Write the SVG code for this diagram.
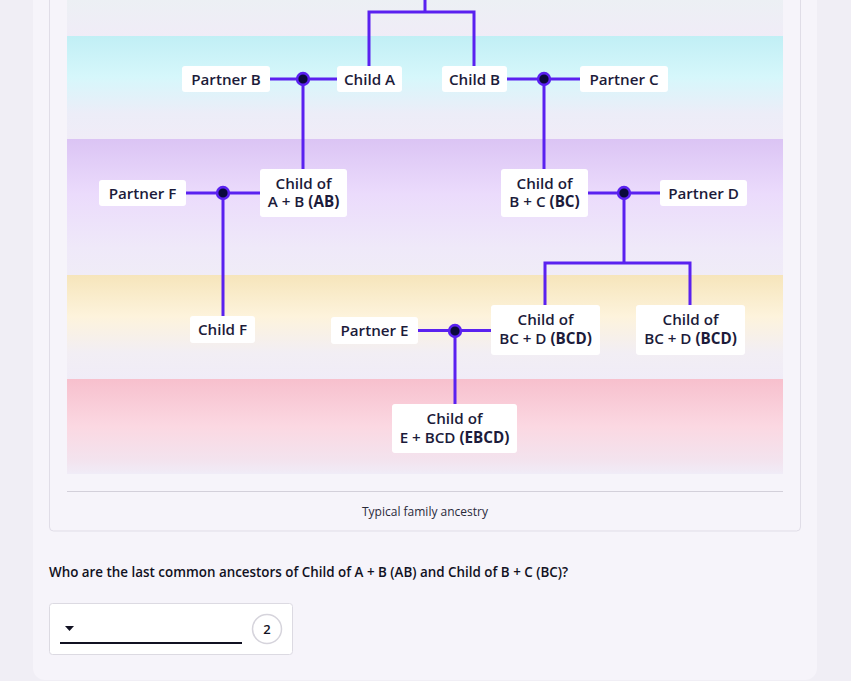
<svg xmlns="http://www.w3.org/2000/svg" width="851" height="681" viewBox="0 0 851 681">
<style>
.nb{fill:#ffffff;}
.t{font-family:"Open Sans","Noto Sans","Liberation Sans",sans-serif;font-size:15.2px;font-weight:600;fill:#1c1b3a;text-anchor:middle;}
.l{font-weight:600;}
.b{font-weight:700;}
.cn{fill:none;stroke:#5a21f0;stroke-width:3;}
.dot{fill:#0b0a3c;stroke:#5a21f0;stroke-width:2.6;}
</style>
<defs>
<linearGradient id="g0" x1="0" y1="0" x2="0" y2="1"><stop offset="0" stop-color="#ecf0f4"/><stop offset="1" stop-color="#f0ecf7"/></linearGradient>
<linearGradient id="g1" x1="0" y1="0" x2="0" y2="1"><stop offset="0" stop-color="#c1eff5"/><stop offset="0.4" stop-color="#d6f7fb"/><stop offset="0.75" stop-color="#ecedf8"/><stop offset="1" stop-color="#f0ecf7"/></linearGradient>
<linearGradient id="g2" x1="0" y1="0" x2="0" y2="1"><stop offset="0" stop-color="#dbc4f4"/><stop offset="0.4" stop-color="#ebdbfc"/><stop offset="0.8" stop-color="#efe9f9"/><stop offset="1" stop-color="#f0ecf7"/></linearGradient>
<linearGradient id="g3" x1="0" y1="0" x2="0" y2="1"><stop offset="0" stop-color="#f6e5bb"/><stop offset="0.4" stop-color="#fdf3dc"/><stop offset="0.75" stop-color="#f2eef4"/><stop offset="1" stop-color="#f0ecf7"/></linearGradient>
<linearGradient id="g4" x1="0" y1="0" x2="0" y2="1"><stop offset="0" stop-color="#f7c0cd"/><stop offset="0.5" stop-color="#fbd8e2"/><stop offset="0.85" stop-color="#f3e3ee"/><stop offset="1" stop-color="#f0ecf7"/></linearGradient>
</defs>
<rect x="0" y="0" width="851" height="681" fill="#f0eef5"/>
<rect x="33" y="-20" width="784" height="700" rx="12" fill="#f6f4fa"/>
<rect x="49.5" y="-10" width="751" height="541" rx="4" fill="#f6f4fa" stroke="#e0dde7" stroke-width="1"/>
<g id="bands">
<rect x="67" y="0" width="716" height="36" fill="url(#g0)"/>
<rect x="67" y="36" width="716" height="103" fill="url(#g1)"/>
<rect x="67" y="139" width="716" height="136" fill="url(#g2)"/>
<rect x="67" y="275" width="716" height="104" fill="url(#g3)"/>
<rect x="67" y="379" width="716" height="95" fill="url(#g4)"/>
</g>
<line x1="67" y1="491.5" x2="783" y2="491.5" stroke="#d3d0da" stroke-width="1"/>
<text x="425" y="516" font-family="Open Sans, Noto Sans, Liberation Sans, sans-serif" font-size="12" fill="#2a2a3a" text-anchor="middle">Typical family ancestry</text>
<g id="connectors">
<path class="cn" d="M425 0V12M369 66V12H474V66"/>
<path class="cn" d="M270 79H337M303 79V169"/>
<path class="cn" d="M507 79H580M544 79V169"/>
<path class="cn" d="M186 193H260M223 193V316"/>
<path class="cn" d="M588 193H660M624 193V263M545 305V263H690V305"/>
<path class="cn" d="M418 330.5H491M455 330.5V404"/>
<circle class="dot" cx="303" cy="79" r="5.9"/>
<circle class="dot" cx="544" cy="79" r="5.9"/>
<circle class="dot" cx="223" cy="193" r="5.9"/>
<circle class="dot" cx="624" cy="193" r="5.9"/>
<circle class="dot" cx="455" cy="331" r="5.9"/>
</g>
<g id="partnerB"><rect class="nb" x="182" y="66" width="88" height="26" rx="3"/><text class="t" x="226" y="84.5">Partner B</text></g>
<g id="childA"><rect class="nb" x="337" y="66" width="65" height="26" rx="3"/><text class="t" x="369.5" y="84.5">Child A</text></g>
<g id="childB"><rect class="nb" x="442" y="66" width="65" height="26" rx="3"/><text class="t" x="474.5" y="84.5">Child B</text></g>
<g id="partnerC"><rect class="nb" x="580" y="66" width="88" height="26" rx="3"/><text class="t" x="624" y="84.5">Partner C</text></g>
<g id="partnerF"><rect class="nb" x="99" y="180" width="87" height="26" rx="3"/><text class="t" x="142.5" y="198.5">Partner F</text></g>
<g id="childAB"><rect class="nb" x="260" y="169" width="87" height="48" rx="3"/><text class="t" x="303.5" y="188.5">Child of</text><text class="t" x="303.5" y="207"><tspan class="l">A + B </tspan><tspan class="b">(AB)</tspan></text></g>
<g id="childBC"><rect class="nb" x="501" y="169" width="87" height="48" rx="3"/><text class="t" x="544.5" y="188.5">Child of</text><text class="t" x="544.5" y="207"><tspan class="l">B + C </tspan><tspan class="b">(BC)</tspan></text></g>
<g id="partnerD"><rect class="nb" x="660" y="180" width="87" height="26" rx="3"/><text class="t" x="703.5" y="198.5">Partner D</text></g>
<g id="childF"><rect class="nb" x="190" y="316" width="65" height="27" rx="3"/><text class="t" x="222.5" y="335">Child F</text></g>
<g id="partnerE"><rect class="nb" x="331" y="317" width="87" height="27" rx="3"/><text class="t" x="374.5" y="336">Partner E</text></g>
<g id="childBCD1"><rect class="nb" x="491" y="305" width="109" height="50" rx="3"/><text class="t" x="545.5" y="324.5">Child of</text><text class="t" x="545.5" y="343.5"><tspan class="l">BC + D </tspan><tspan class="b">(BCD)</tspan></text></g>
<g id="childBCD2"><rect class="nb" x="636" y="305" width="109" height="50" rx="3"/><text class="t" x="690.5" y="324.5">Child of</text><text class="t" x="690.5" y="343.5"><tspan class="l">BC + D </tspan><tspan class="b">(BCD)</tspan></text></g>
<g id="childEBCD"><rect class="nb" x="392" y="404" width="125" height="49" rx="3"/><text class="t" x="454.5" y="423.5">Child of</text><text class="t" x="454.5" y="442.5"><tspan class="l">E + BCD </tspan><tspan class="b">(EBCD)</tspan></text></g>
<text x="49" y="577" font-family="Open Sans, Noto Sans, Liberation Sans, sans-serif" font-size="13.4" font-weight="600" fill="#111122">Who are the last common ancestors of Child of A + B (AB) and Child of B + C (BC)?</text>
<g id="answer">
<rect x="49.5" y="603.5" width="243" height="51" rx="3" fill="#ffffff" stroke="#dcdae2" stroke-width="1"/>
<path d="M65 626H74L69.5 631Z" fill="#111122"/>
<line x1="60" y1="643" x2="242" y2="643" stroke="#111122" stroke-width="2"/>
<circle cx="267" cy="629" r="14.5" fill="#ffffff" stroke="#d6d4dc" stroke-width="1.5"/>
<text x="267" y="634" font-family="Open Sans, Noto Sans, Liberation Sans, sans-serif" font-size="13" font-weight="600" fill="#111122" text-anchor="middle">2</text>
</g>
</svg>
